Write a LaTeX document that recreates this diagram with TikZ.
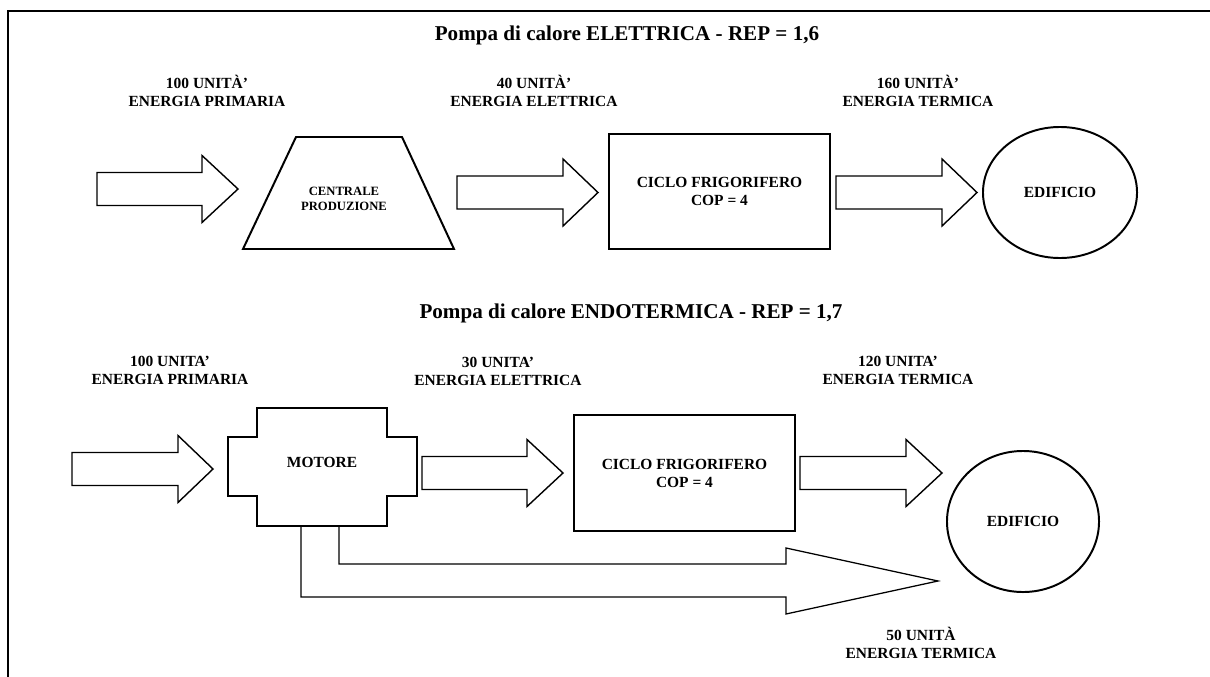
\documentclass[tikz,border=0pt]{standalone}
\usepackage{fontspec}
\setmainfont{Liberation Serif}
\usetikzlibrary{shapes.geometric}

\begin{document}
\begin{tikzpicture}
[x=0.025cm,y=-0.025cm,
  textdecorate/.style={align=center,inner sep=0pt,font=\bfseries\fontsize{11}{12.8}\selectfont},
  titledecorate/.style={inner sep=0pt,font=\bfseries\fontsize{15}{18}\selectfont},
  shapedecorate/.style={draw,line width=1.4pt,line join=miter},
  boxdecorate/.style={shape=rectangle,shapedecorate,textdecorate,minimum width=5.525cm,minimum height=2.9cm},
  circledecorate/.style={shape=ellipse,shapedecorate,textdecorate,minimum width=3.85cm},
  arrowdecorate/.style={draw,line width=1pt,line join=miter}]
\useasboundingbox (0,0) rectangle (1210,677);
%% frame
\draw[line width=1.8pt] (8,677) -- (8,11) -- (1210,11);
%% titles
\node (titleone) at (627,35) [titledecorate] {Pompa di calore ELETTRICA - REP = 1,6};
\node (titletwo) at (631,313) [titledecorate] {Pompa di calore ENDOTERMICA - REP = 1,7};
%% labels over the arrows
\foreach \labelname/\x/\y/\labeltext in {primone/207/91/{100 UNITÀ’\\ENERGIA PRIMARIA},
  eleone/534/91/{40 UNITÀ’\\ENERGIA ELETTRICA}, terone/918/91/{160 UNITÀ’\\ENERGIA TERMICA},
  primtwo/170/370/{100 UNITA’\\ENERGIA PRIMARIA}, eletwo/498/371/{30 UNITA’\\ENERGIA ELETTRICA},
  tertwo/898/370/{120 UNITA’\\ENERGIA TERMICA}, recovery/921/643/{50 UNITÀ\\ENERGIA TERMICA}} {
  \node (\labelname) at (\x,\y) [textdecorate] {\labeltext};
}
%% blocks
\draw[shapedecorate] (296,137) -- (402,137) -- (454,249) -- (243,249) -- cycle;
\node (centrale) at (344,199) [textdecorate,font=\bfseries\fontsize{9}{10.6}\selectfont] {CENTRALE\\PRODUZIONE};
\node (cicloone) at (719.5,191.5) [boxdecorate,minimum height=2.875cm] {CICLO FRIGORIFERO\\COP = 4};
\node (edificioone) at (1060,192.5) [circledecorate,minimum height=3.275cm] {EDIFICIO};
\draw[shapedecorate] (257,408) -- (387,408) -- (387,437) -- (417,437) -- (417,496) -- (387,496)
  -- (387,526) -- (257,526) -- (257,496) -- (228,496) -- (228,437) -- (257,437) -- cycle;
\node (motore) at (322,462) [textdecorate] {MOTORE};
\node (ciclotwo) at (684.5,473) [boxdecorate] {CICLO FRIGORIFERO\\COP = 4};
\node (edificiotwo) at (1023,521.5) [circledecorate,minimum width=3.8cm,minimum height=3.525cm] {EDIFICIO};
%% block arrows
\foreach \xa/\xb/\xc/\yc in {97/202/238/189, 457/563/598/192.5, 836/942/977/192.5,
  72/178/213/469, 422/527/563/473, 800/906/942/473} {
  \draw[arrowdecorate] (\xa,\yc-16.5) -- (\xb,\yc-16.5) -- (\xb,\yc-33.5) -- (\xc,\yc)
    -- (\xb,\yc+33.5) -- (\xb,\yc+16.5) -- (\xa,\yc+16.5) -- cycle;
}
%% heat recovered from the engine
\draw[arrowdecorate,line width=0.9pt] (339,526) -- (339,564) -- (786,564) -- (786,548) -- (938,581)
  -- (786,614) -- (786,597) -- (301,597) -- (301,526);
\end{tikzpicture}
\end{document}
